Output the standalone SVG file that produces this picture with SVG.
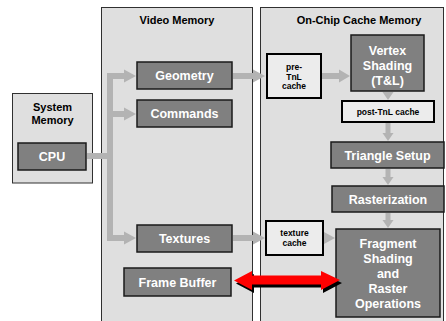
<svg xmlns="http://www.w3.org/2000/svg" width="446" height="321" viewBox="0 0 446 321">
<style>
.panel{fill:#dfdfdf;stroke:#303030;stroke-width:1}
.box{fill:#808080;stroke:#1a1a1a;stroke-width:1.5}
.cache{fill:#ececec;stroke:#000;stroke-width:2}
.t{font-family:"Liberation Sans",Arial,sans-serif;font-weight:bold;text-anchor:middle}
.pt{font-size:11px;fill:#000}
.bt{font-size:12.5px;fill:#fff}
.ct{font-size:8.5px;fill:#000}
.sh{fill:none;stroke:#b3b3b3;stroke-width:6}
.sv{fill:none;stroke:#b3b3b3;stroke-width:5}
.ah{fill:#b3b3b3}
</style>
<defs>
<polygon id="dbl" points="234,280.5 252,271 252,275.5 321,275.5 321,271 340,280 321,290 321,284.5 252,284.5 252,290"/>
</defs>
<rect width="446" height="321" fill="#fff"/>
<g id="panel-system">
<rect class="panel" x="12.5" y="93.5" width="80" height="89.5"/>
<text class="t pt" x="52.5" y="110.5">System</text>
<text class="t pt" x="52.5" y="124">Memory</text>
</g>
<g id="panel-video">
<rect class="panel" x="101.5" y="7.5" width="151" height="330"/>
<text class="t pt" x="177" y="24">Video Memory</text>
</g>
<g id="panel-onchip">
<rect class="panel" x="260.5" y="7.5" width="183" height="330"/>
<text class="t pt" x="359" y="24">On-Chip Cache Memory</text>
</g>
<g id="cpu">
<rect class="box" x="18" y="143" width="68" height="27"/>
<text class="t bt" x="52" y="161">CPU</text>
</g>
<g id="geometry">
<rect class="box" x="137" y="62" width="95" height="27"/>
<text class="t bt" x="184.5" y="80">Geometry</text>
</g>
<g id="commands">
<rect class="box" x="137" y="100" width="95" height="27"/>
<text class="t bt" x="184.5" y="118">Commands</text>
</g>
<g id="textures">
<rect class="box" x="137" y="225" width="95" height="27"/>
<text class="t bt" x="184.5" y="243">Textures</text>
</g>
<g id="frame-buffer">
<rect class="box" x="124" y="268" width="107" height="28"/>
<text class="t bt" x="177.5" y="287">Frame Buffer</text>
</g>
<g id="pre-tnl-cache">
<rect class="cache" x="267" y="54" width="54" height="44"/>
<text class="t ct" x="294" y="69.5">pre-</text>
<text class="t ct" x="294" y="79.5">TnL</text>
<text class="t ct" x="294" y="89">cache</text>
</g>
<g id="vertex-shading">
<rect class="box" x="351" y="35" width="73" height="56"/>
<text class="t bt" x="387.5" y="54.5">Vertex</text>
<text class="t bt" x="387.5" y="69.5">Shading</text>
<text class="t bt" x="387.5" y="84.5">(T&amp;L)</text>
</g>
<g id="post-tnl-cache">
<rect class="cache" x="342" y="101" width="92" height="21"/>
<text class="t ct" x="388" y="114.5">post-TnL cache</text>
</g>
<g id="triangle-setup">
<rect class="box" x="331" y="142" width="113" height="26"/>
<text class="t bt" x="387.5" y="159.5">Triangle Setup</text>
</g>
<g id="rasterization">
<rect class="box" x="332" y="186" width="112" height="26"/>
<text class="t bt" x="388" y="203.5">Rasterization</text>
</g>
<g id="texture-cache">
<rect class="cache" x="266" y="221" width="57" height="34"/>
<text class="t ct" x="294.5" y="235.5">texture</text>
<text class="t ct" x="294.5" y="245.5">cache</text>
</g>
<g id="fragment">
<rect class="box" x="336" y="229" width="104" height="88"/>
<text class="t bt" x="388" y="247.5">Fragment</text>
<text class="t bt" x="388" y="263">Shading</text>
<text class="t bt" x="388" y="278">and</text>
<text class="t bt" x="388" y="292.5">Raster</text>
<text class="t bt" x="388" y="307.5">Operations</text>
</g>
<g id="connectors">
<path class="sh" d="M87,156 H113 M110,73 V241 M107,76 H125 M107,114 H125 M107,238 H125"/>
<polygon class="ah" points="124,69.5 136,76 124,82.5"/>
<polygon class="ah" points="124,107.5 136,114 124,120.5"/>
<polygon class="ah" points="124,231.5 136,238 124,244.5"/>
<path class="sh" d="M233,76 H254 M322,76 H340 M233,238 H254"/>
<polygon class="ah" points="253,69.5 265,76 253,82.5"/>
<polygon class="ah" points="339,69.5 350,76 339,82.5"/>
<polygon class="ah" points="253,231.5 265,238 253,244.5"/>
<polygon class="ah" points="324,232 335,238 324,244"/>
<path class="sv" d="M388,123 V134 M388,169 V178 M388,213 V221"/>
<polygon class="ah" points="382.5,92 393.5,92 388,100"/>
<polygon class="ah" points="382.5,133 393.5,133 388,141"/>
<polygon class="ah" points="382.5,177 393.5,177 388,185"/>
<polygon class="ah" points="382.5,220 393.5,220 388,228"/>
<use href="#dbl" fill="#000" transform="translate(2,3)"/>
<use href="#dbl" fill="#f00"/>
</g>
</svg>
